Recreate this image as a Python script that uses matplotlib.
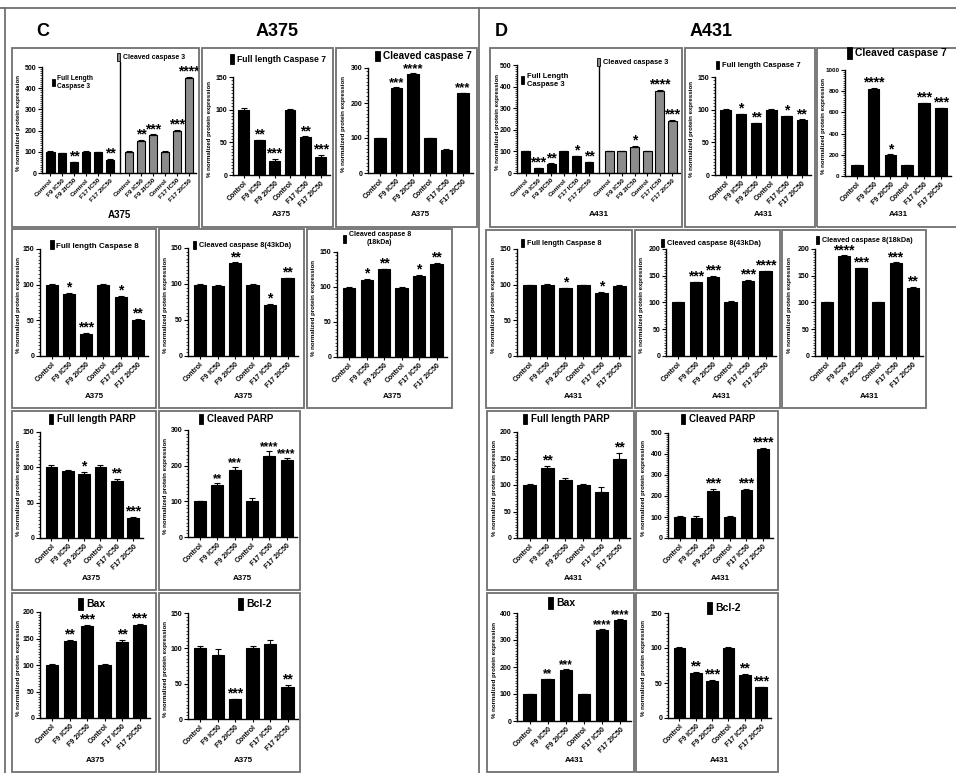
import matplotlib
matplotlib.use('Agg')
import matplotlib.pyplot as plt
from matplotlib.patches import Rectangle, Patch
from matplotlib.lines import Line2D
from matplotlib.ticker import MultipleLocator, AutoMinorLocator

plt.rcParams['font.family'] = ['Liberation Sans', 'DejaVu Sans']
plt.rcParams['font.weight'] = 'bold'

W, H = 956, 773
groups = ["Control", "F9 IC50", "F9 2IC50", "Control", "F17 IC50", "F17 2IC50"]
ylabel_text = "% normalized protein expression"

# ---------------- Section C : A375 ----------------
c_casp3_full = [100, 92, 52, 100, 97, 62]
c_casp3_full_err = [3, 2, 2, 2, 2, 3]
c_casp3_full_sig = ['', '', '**', '', '', '**']
c_casp3_cleaved = [100, 152, 178, 100, 198, 448]
c_casp3_cleaved_err = [3, 5, 4, 3, 4, 6]
c_casp3_cleaved_sig = ['', '**', '***', '', '***', '****']

c_casp7_full = [100, 53, 22, 100, 58, 28]
c_casp7_full_err = [3, 1, 3, 1, 1, 3]
c_casp7_full_sig = ['', '**', '***', '', '**', '***']

c_casp7_cleaved = [100, 243, 283, 100, 67, 228]
c_casp7_cleaved_err = [1, 2, 2, 1, 1, 1]
c_casp7_cleaved_sig = ['', '***', '****', '', '', '***']

c_casp8_full = [100, 87, 31, 100, 83, 51]
c_casp8_full_err = [1, 1, 1, 1, 1, 1]
c_casp8_full_sig = ['', '*', '***', '', '*', '**']

c_casp8_43 = [99, 97, 129, 99, 71, 108]
c_casp8_43_err = [1, 1, 1, 1, 1, 1]
c_casp8_43_sig = ['', '', '**', '', '*', '**']

c_casp8_18 = [99, 110, 125, 99, 116, 133]
c_casp8_18_err = [1, 1, 1, 1, 1, 1]
c_casp8_18_sig = ['', '*', '**', '', '*', '**']

c_parp_full = [100, 95, 91, 100, 81, 29]
c_parp_full_err = [3, 1, 2, 3, 2, 1]
c_parp_full_sig = ['', '', '*', '', '**', '***']

c_parp_cleaved = [100, 145, 188, 100, 228, 215]
c_parp_cleaved_err = [2, 6, 7, 10, 12, 6]
c_parp_cleaved_sig = ['', '**', '***', '', '****', '****']

c_bax = [100, 145, 173, 100, 143, 176]
c_bax_err = [1, 2, 2, 2, 4, 1]
c_bax_sig = ['', '**', '***', '', '**', '***']

c_bcl2 = [100, 90, 28, 100, 106, 45]
c_bcl2_err = [3, 9, 1, 4, 6, 3]
c_bcl2_sig = ['', '', '***', '', '', '**']

# ---------------- Section D : A431 ----------------
d_casp3_full = [100, 22, 42, 100, 78, 50]
d_casp3_full_err = [2, 2, 2, 2, 2, 2]
d_casp3_full_sig = ['', '***', '**', '', '*', '**']
d_casp3_cleaved = [100, 102, 120, 100, 380, 240]
d_casp3_cleaved_err = [2, 2, 5, 2, 3, 5]
d_casp3_cleaved_sig = ['', '', '*', '', '****', '***']

d_casp7_full = [100, 93, 79, 100, 90, 84]
d_casp7_full_err = [1, 1, 1, 1, 1, 1]
d_casp7_full_sig = ['', '*', '**', '', '*', '**']

d_casp7_cleaved = [100, 825, 195, 100, 688, 637]
d_casp7_cleaved_err = [2, 5, 8, 2, 5, 5]
d_casp7_cleaved_sig = ['', '****', '*', '', '***', '***']

d_casp8_full = [99, 100, 95, 99, 89, 98]
d_casp8_full_err = [1, 1, 1, 1, 1, 1]
d_casp8_full_sig = ['', '', '*', '', '*', '']

d_casp8_43 = [100, 138, 148, 100, 141, 158]
d_casp8_43_err = [1, 1, 1, 2, 1, 1]
d_casp8_43_sig = ['', '***', '***', '', '***', '****']

d_casp8_18 = [100, 187, 164, 100, 174, 128]
d_casp8_18_err = [1, 1, 1, 1, 1, 1]
d_casp8_18_sig = ['', '****', '***', '', '***', '**']

d_parp_full = [100, 133, 109, 100, 87, 149]
d_parp_full_err = [2, 3, 4, 2, 10, 12]
d_parp_full_sig = ['', '**', '', '', '', '**']

d_parp_cleaved = [100, 95, 225, 100, 230, 425]
d_parp_cleaved_err = [5, 12, 8, 5, 3, 5]
d_parp_cleaved_sig = ['', '', '***', '', '***', '****']

d_bax = [100, 155, 190, 100, 338, 375]
d_bax_err = [1, 1, 1, 1, 1, 1]
d_bax_sig = ['', '**', '***', '', '****', '****']

d_bcl2 = [100, 65, 53, 100, 62, 44]
d_bcl2_err = [1, 1, 1, 1, 1, 1]
d_bcl2_sig = ['', '**', '***', '', '**', '***']

# ---------------------------------------------------
fig = plt.figure(figsize=(W / 100, H / 100), dpi=100)
FRAME = '#707070'
STAR_FS = 10


def fx(x):
    return x / W


def fy(y):
    return 1 - y / H


def frame_box(l, t, r, b, lw=1.3):
    fig.add_artist(Rectangle((fx(l), fy(b)), fx(r) - fx(l), fy(t) - fy(b),
                             transform=fig.transFigure, fill=False, lw=lw, ec=FRAME))


def fig_line(x0, y0, x1, y1, lw=1.3):
    fig.add_artist(Line2D([fx(x0), fx(x1)], [fy(y0), fy(y1)], transform=fig.transFigure,
                          color=FRAME, lw=lw))


def make_axes(rect, ymax, ystep, xlim, ytick_fs=5.0):
    l, t, r, b = rect
    ax = fig.add_axes([fx(l), fy(b), (r - l) / W, (b - t) / H])
    ax.set_ylim(0, ymax)
    ax.set_xlim(*xlim)
    ax.yaxis.set_major_locator(MultipleLocator(ystep))
    ax.yaxis.set_minor_locator(AutoMinorLocator(10))
    for s in ['top', 'right']:
        ax.spines[s].set_visible(False)
    for s in ['left', 'bottom']:
        ax.spines[s].set_linewidth(1.0)
    ax.tick_params(axis='y', which='major', length=3, width=0.8, labelsize=ytick_fs, pad=1)
    ax.tick_params(axis='y', which='minor', length=1.6, width=0.5)
    ax.tick_params(axis='x', length=2.5, width=0.8, labelsize=5.0, pad=1)
    ax.patch.set_alpha(0)
    return ax


def draw_bars(ax, pos, vals, errs, sigs, color='black', star_fs=STAR_FS):
    ax.bar(pos, vals, width=0.7, color=color, edgecolor='black', linewidth=0.8, zorder=2)
    ax.errorbar(pos, vals, yerr=[[0] * len(errs), errs], fmt='none', ecolor='black',
                elinewidth=0.8, capsize=2, capthick=0.8, zorder=3)
    for p, v, e, s in zip(pos, vals, errs, sigs):
        if s:
            ax.annotate(s, (p, v + e), xytext=(0, 1), textcoords='offset points',
                        ha='center', va='baseline', fontsize=star_fs, annotation_clip=False)


def title_key(text, x, y, fs, color='black', center=False):
    leg = fig.legend(handles=[Patch(fc=color, ec='black', lw=0.6)], labels=[text],
                     loc='center left', bbox_to_anchor=(fx(x), fy(y)), frameon=False,
                     fontsize=fs, handlelength=0.45, handleheight=1.3, handletextpad=0.35,
                     borderpad=0, borderaxespad=0)
    if center:
        leg.get_texts()[0].set_multialignment('center')


def ylabel(box, rect):
    l, t, r, b = rect
    fig.text(fx(box[0] + 7), fy((t + b) / 2 + 3), ylabel_text, rotation=90,
             ha='center', va='center', fontsize=4.4)


def panel(box, rect, vals, errs, sigs, ymax, ystep, title, tpos, tfs, cell,
          xfs=5.8, ytick_fs=5.0, star_fs=STAR_FS):
    frame_box(*box)
    ax = make_axes(rect, ymax, ystep, (-0.7, 5.6), ytick_fs)
    pos = list(range(len(vals)))
    draw_bars(ax, pos, vals, errs, sigs, star_fs=star_fs)
    ax.set_xticks(pos)
    ax.set_xticklabels(groups, rotation=45, ha='right', rotation_mode='anchor')
    l, t, r, b = rect
    ylabel(box, rect)
    fig.text(fx((l + r) / 2), fy(box[3] - 12), cell, ha='center', va='center', fontsize=xfs)
    title_key(title, tpos[0], tpos[1], tfs, center='\n' in title)
    return ax


def casp3_panel(box, rect, full, full_err, full_sig, cl, cl_err, cl_sig, cell,
                fl_pos, fl_fs, cl_pos, cl_fs, xfs):
    frame_box(*box)
    ax = make_axes(rect, 500, 100, (-0.7, 12.2))
    p1 = list(range(6))
    p2 = [6.6 + i for i in range(6)]
    draw_bars(ax, p1, full, full_err, full_sig)
    draw_bars(ax, p2, cl, cl_err, cl_sig, color='#8c8c8c')
    ax.axvline(5.8, ymin=0, ymax=1.05, color='black', lw=1.0, clip_on=False)
    ax.set_xticks(p1 + p2)
    ax.set_xticklabels(groups + groups, rotation=45, ha='right', rotation_mode='anchor',
                       fontsize=4.6)
    l, t, r, b = rect
    ylabel(box, rect)
    fig.text(fx((l + r) / 2), fy(box[3] - 12), cell, ha='center', va='center', fontsize=xfs)
    title_key("Full Length\nCaspase 3", fl_pos[0], fl_pos[1], fl_fs)
    title_key("Cleaved caspase 3", cl_pos[0], cl_pos[1], cl_fs, color='#8c8c8c')
    return ax


# outer frames and headings
fig_line(0, 8, 956, 8)
fig_line(5, 8, 5, 773)
fig_line(479, 8, 479, 773)
fig.text(fx(43), fy(32), "C", ha='center', va='center', fontsize=13)
fig.text(fx(277), fy(31), "A375", ha='center', va='center', fontsize=13)
fig.text(fx(501), fy(32), "D", ha='center', va='center', fontsize=13)
fig.text(fx(711), fy(31), "A431", ha='center', va='center', fontsize=13)

# ---- C panels ----
casp3_panel((12, 48, 199, 227), (42, 67, 196, 173),
            c_casp3_full, c_casp3_full_err, c_casp3_full_sig,
            c_casp3_cleaved, c_casp3_cleaved_err, c_casp3_cleaved_sig, "A375",
            (52, 82), 4.8, (117, 57), 5.0, 7)
panel((202, 48, 333, 227), (233, 77, 330, 175), c_casp7_full, c_casp7_full_err,
      c_casp7_full_sig, 150, 50, "Full length Caspase 7", (230, 59), 6.2, "A375")
panel((336, 48, 477, 227), (368, 68, 473, 173), c_casp7_cleaved, c_casp7_cleaved_err,
      c_casp7_cleaved_sig, 300, 100, "Cleaved caspase 7", (375, 56), 7.2, "A375",
      star_fs=9.5)

panel((12, 229, 156, 408), (40, 249, 148, 356), c_casp8_full, c_casp8_full_err,
      c_casp8_full_sig, 150, 50, "Full length Caspase 8", (50, 245), 5.8, "A375")
panel((159, 229, 304, 408), (188, 248, 298, 356), c_casp8_43, c_casp8_43_err,
      c_casp8_43_sig, 150, 50, "Cleaved caspase 8(43kDa)", (193, 245), 5.3, "A375")
panel((307, 229, 452, 408), (337, 252, 447, 357), c_casp8_18, c_casp8_18_err,
      c_casp8_18_sig, 150, 50, "Cleaved caspase 8\n(18kDa)", (343, 239), 5.0, "A375")

panel((12, 411, 156, 590), (40, 432, 143, 538), c_parp_full, c_parp_full_err,
      c_parp_full_sig, 150, 50, "Full length PARP", (49, 419), 7.0, "A375")
panel((159, 411, 300, 590), (188, 430, 297, 537), c_parp_cleaved, c_parp_cleaved_err,
      c_parp_cleaved_sig, 300, 100, "Cleaved PARP", (199, 419), 7.0, "A375",
      star_fs=8.5)

panel((12, 593, 156, 772), (40, 612, 150, 718), c_bax, c_bax_err, c_bax_sig,
      200, 50, "Bax", (78, 604), 7.5, "A375")
panel((159, 593, 300, 772), (188, 613, 298, 719), c_bcl2, c_bcl2_err, c_bcl2_sig,
      150, 50, "Bcl-2", (238, 604), 7.5, "A375")

# ---- D panels ----
casp3_panel((490, 48, 682, 227), (517, 65, 680, 173),
            d_casp3_full, d_casp3_full_err, d_casp3_full_sig,
            d_casp3_cleaved, d_casp3_cleaved_err, d_casp3_cleaved_sig, "A431",
            (521, 80), 5.5, (597, 62), 5.3, 6)
panel((685, 48, 815, 227), (715, 77, 811, 175), d_casp7_full, d_casp7_full_err,
      d_casp7_full_sig, 150, 50, "Full length Caspase 7", (716, 65), 5.5, "A431")
panel((817, 48, 965, 227), (845, 70, 951, 176), d_casp7_cleaved, d_casp7_cleaved_err,
      d_casp7_cleaved_sig, 1000, 200, "Cleaved caspase 7", (847, 53), 7.4, "A431",
      ytick_fs=4.5)

panel((486, 230, 632, 408), (517, 249, 630, 356), d_casp8_full, d_casp8_full_err,
      d_casp8_full_sig, 150, 50, "Full length Caspase 8", (521, 243), 5.2, "A431")
panel((635, 230, 780, 408), (666, 249, 776, 356), d_casp8_43, d_casp8_43_err,
      d_casp8_43_sig, 200, 50, "Cleaved caspase 8(43kDa)", (661, 243), 5.4, "A431")
panel((782, 230, 926, 408), (815, 249, 923, 356), d_casp8_18, d_casp8_18_err,
      d_casp8_18_sig, 200, 50, "Cleaved caspase 8(18kDa)", (816, 240), 5.2, "A431")

panel((487, 411, 634, 590), (517, 432, 630, 538), d_parp_full, d_parp_full_err,
      d_parp_full_sig, 200, 50, "Full length PARP", (523, 419), 7.0, "A431")
panel((636, 411, 778, 590), (668, 433, 773, 538), d_parp_cleaved, d_parp_cleaved_err,
      d_parp_cleaved_sig, 500, 100, "Cleaved PARP", (681, 419), 7.0, "A431")

panel((487, 593, 634, 772), (517, 613, 631, 721), d_bax, d_bax_err, d_bax_sig,
      400, 100, "Bax", (548, 603), 7.5, "A431", star_fs=8.5)
panel((636, 593, 778, 772), (668, 613, 771, 718), d_bcl2, d_bcl2_err, d_bcl2_sig,
      150, 50, "Bcl-2", (707, 608), 7.5, "A431")

fig.savefig("out.png", dpi=100)
